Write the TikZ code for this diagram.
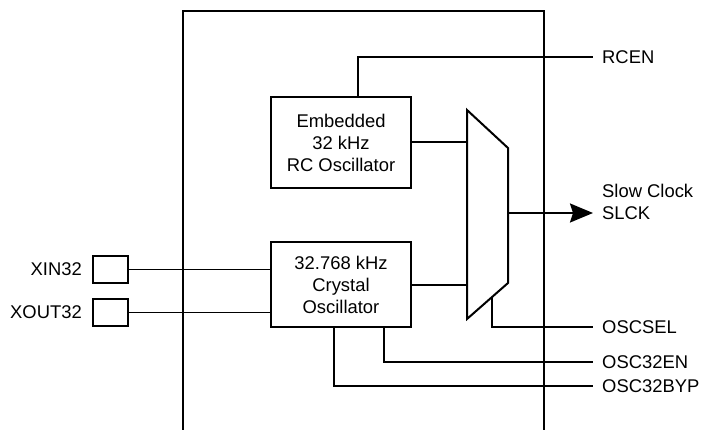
\documentclass[tikz,border=0pt]{standalone}
\usepackage{fontspec}
\setmainfont{Liberation Sans}
\usepackage{tikz}
\usetikzlibrary{arrows.meta,positioning,calc}

\begin{document}
\begin{tikzpicture}[x=1pt, y=-1pt,
  osc/.style={rectangle, draw, line width=2pt, minimum width=140pt,
    align=center, font=\fontsize{18.4}{22}\selectfont, inner sep=0pt},
  pad/.style={rectangle, draw, line width=2pt, minimum width=35pt, minimum height=27pt},
  lbl/.style={font=\fontsize{18.4}{22}\selectfont, inner xsep=9pt, inner ysep=0pt},
  wire/.style={line width=2pt},
  thinwire/.style={line width=1.2pt},
  outarr/.style={-{Stealth[length=23pt, width=19pt, inset=3pt]}, line width=2pt}
]
\useasboundingbox (0,0) rectangle (701,430);

% Chip outline (open at the bottom)
\draw[wire] (183,430) -- (183,11) -- (544,11) -- (544,430);

% Oscillators
\node[osc, minimum height=91pt] (rcosc) at (341,142.5) {Embedded\\32 kHz\\RC Oscillator};
\node[osc, minimum height=85pt] (xosc)  at (341,284.5) {32.768 kHz\\Crystal\\Oscillator};

% Multiplexer
\coordinate (muxtl) at (467,110);
\coordinate (muxtr) at (508,148);
\coordinate (muxbr) at (508,283);
\coordinate (muxbl) at (467,319);
\coordinate (muxout) at (508,213);
\coordinate (muxsel) at (492,297);
\draw[wire, line join=miter] (muxtl) -- (muxtr) -- (muxbr) -- (muxbl) -- cycle;

% Pads
\node[pad] (xinpad)  at (110.5,269.5) {};
\node[pad] (xoutpad) at (110.5,312.5) {};
\node[lbl, left=1pt of xinpad]  (xin)  {XIN32};
\node[lbl, left=1pt of xoutpad] (xout) {XOUT32};

% Right side signals
\node[lbl, anchor=west] (rcen)     at (593,57)  {RCEN};
\node[lbl, anchor=west] (slck)     at (593,213) {SLCK};
\node[lbl, anchor=base west] (slow) at ([yshift=22pt]slck.base west) {Slow Clock};
\node[lbl, anchor=west] (oscsel)   at (593,327) {OSCSEL};
\node[lbl, anchor=west] (osc32en)  at (593,362) {OSC32EN};
\node[lbl, anchor=west] (osc32byp) at (593,386) {OSC32BYP};

% Edges
\draw[wire] ([xshift=17pt]rcosc.north) |- (rcen.west);
\draw[wire] (rcosc.east) -- (rcosc.east -| muxtl);
\draw[wire] (xosc.east) -- (xosc.east -| muxtl);
\draw[outarr] (muxout) -- (slck.west);
\draw[wire] (muxsel) |- (oscsel.west);
\draw[wire] ([xshift=43pt]xosc.south) |- (osc32en.west);
\draw[wire] ([xshift=-7pt]xosc.south) |- (osc32byp.west);
\draw[thinwire] (xinpad.east) -- (xinpad.east -| xosc.west);
\draw[thinwire] (xoutpad.east) -- (xoutpad.east -| xosc.west);

\end{tikzpicture}
\end{document}
